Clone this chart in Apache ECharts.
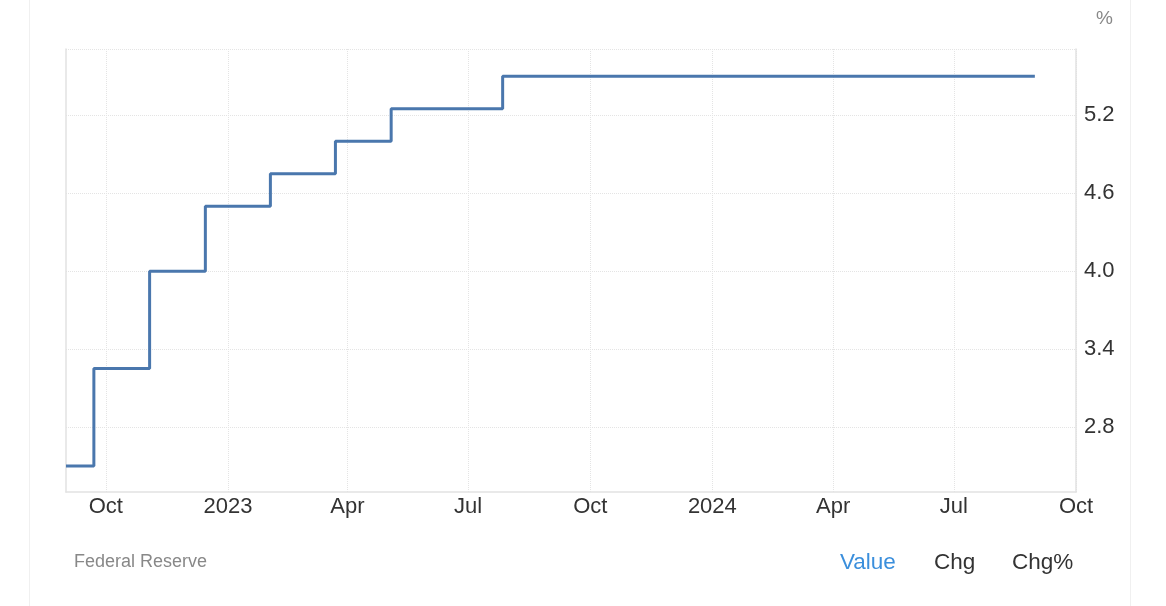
<!DOCTYPE html>
<html>
<head>
<meta charset="utf-8">
<script src="https://cdn.jsdelivr.net/npm/echarts@6/dist/echarts.min.js"></script>
<style>
html,body{margin:0;padding:0;background:#fff;}
#c{width:1166px;height:606px;}
</style>
</head>
<body>
<div id="c"></div>
<script>
// Data
const changeDates = ['2022-09-01','2022-09-22','2022-11-03','2022-12-15','2023-02-02','2023-03-23','2023-05-04','2023-07-27','2024-08-31'];
const rateValues  = [2.5, 3.25, 4.0, 4.5, 4.75, 5.0, 5.25, 5.5, 5.5];
const xTickDates  = ['2022-10-01','2023-01-01','2023-04-01','2023-07-01','2023-10-01','2024-01-01','2024-04-01','2024-07-01','2024-10-01'];
const xTickLabels = ['Oct','2023','Apr','Jul','Oct','2024','Apr','Jul','Oct'];
const yTickValues = [2.8, 3.4, 4.0, 4.6, 5.2];
const xRange = ['2022-09-01','2024-10-01'];
const yRange = [2.3, 5.71];
const unitLabel = '%';
const sourceLabel = 'Federal Reserve';
const tabLabels = ['Value','Chg','Chg%'];

const ts = s => Date.UTC(+s.slice(0,4), +s.slice(5,7)-1, +s.slice(8,10));
const tickTs = xTickDates.map(ts);
const labelMap = {};
tickTs.forEach((t,i)=>labelMap[t]=xTickLabels[i]);

const chart = echarts.init(document.getElementById('c'), null, {renderer:'canvas'});
const font = 'Arial, "Liberation Sans", sans-serif';
chart.setOption({
  animation:false,
  backgroundColor:'#fff',
  grid:{left:66,right:90,top:49,bottom:114},
  xAxis:{
    type:'value',
    min:ts(xRange[0]), max:ts(xRange[1]),
    axisLine:{show:true,lineStyle:{color:'#e2e2e2',width:1.5}},
    axisTick:{show:false,customValues:tickTs},
    axisLabel:{customValues:tickTs,formatter:v=>labelMap[v]||'',color:'#333',fontSize:22,fontFamily:font,margin:4},
    splitLine:{show:true,lineStyle:{color:'#e4e4e4',type:'dotted',width:1}}
  },
  yAxis:[{
    type:'value',position:'right',
    min:yRange[0],max:yRange[1],
    axisLine:{show:true,lineStyle:{color:'#e2e2e2',width:1.5}},
    axisTick:{show:false,customValues:yTickValues.concat([yRange[1]])},
    axisLabel:{customValues:yTickValues,formatter:v=>v.toFixed(1),color:'#333',fontSize:22,fontFamily:font,margin:8,padding:[0,0,6,0]},
    splitLine:{show:true,lineStyle:{color:'#e4e4e4',type:'dotted',width:1}}
  },{
    type:'value',position:'left',
    min:yRange[0],max:yRange[1],
    axisLine:{show:true,lineStyle:{color:'#e2e2e2',width:1.5}},
    axisTick:{show:false},axisLabel:{show:false},splitLine:{show:false}
  }],
  graphic:[
    {type:'line',shape:{x1:29.5,y1:0,x2:29.5,y2:606},style:{stroke:'#f0f0f0',lineWidth:1},silent:true},
    {type:'line',shape:{x1:1130.5,y1:0,x2:1130.5,y2:606},style:{stroke:'#f0f0f0',lineWidth:1},silent:true},
    {type:'text',left:1096,top:9,style:{text:unitLabel,fill:'#888',fontSize:19,fontFamily:font}},
    {type:'text',left:74,top:553,style:{text:sourceLabel,fill:'#888',fontSize:18,fontFamily:font}},
    {type:'text',left:840,top:551,style:{text:tabLabels[0],fill:'#3b8fdc',fontSize:22.5,fontFamily:font}},
    {type:'text',left:934,top:551,style:{text:tabLabels[1],fill:'#333',fontSize:22.5,fontFamily:font}},
    {type:'text',left:1012,top:551,style:{text:tabLabels[2],fill:'#333',fontSize:22.5,fontFamily:font}}
  ],
  series:[{
    type:'line',step:'end',yAxisIndex:0,
    data:changeDates.map((d,i)=>[ts(d),rateValues[i]]),
    showSymbol:false,
    lineStyle:{color:'#4a77ad',width:3},
    itemStyle:{color:'#4a77ad'}
  }]
});
</script>
</body>
</html>
